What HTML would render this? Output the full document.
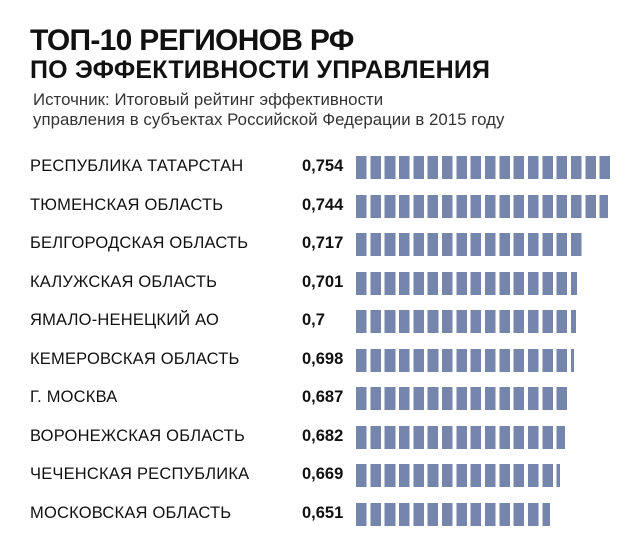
<!DOCTYPE html>
<html><head><meta charset="utf-8"><style>
body{margin:0;width:640px;height:555px;background:#fff;position:relative;overflow:hidden;font-family:"Liberation Sans","DejaVu Sans",sans-serif;color:#111}
.t{position:absolute;left:30px;font-weight:bold;white-space:nowrap}
.l{position:absolute;left:30px;font-size:16.5px;letter-spacing:0.2px;white-space:nowrap}
.v{position:absolute;left:302px;font-size:16.5px;font-weight:bold}
.b{position:absolute;left:356px;height:23px;background:repeating-linear-gradient(90deg,#7585ab 0,#7585ab 10.6px,transparent 10.6px,transparent 14.33px)}
</style></head><body>
<div class="t" style="top:24px;font-size:30px;letter-spacing:-0.7px">ТОП-10 РЕГИОНОВ РФ</div>
<div class="t" style="top:56px;font-size:25px;letter-spacing:0.2px">ПО ЭФФЕКТИВНОСТИ УПРАВЛЕНИЯ</div>
<div style="position:absolute;left:33px;top:90px;font-size:16.8px;line-height:20px;color:#333;letter-spacing:0.05px;white-space:nowrap">Источник: Итоговый рейтинг эффективности<br>управления в субъектах Российской Федерации в 2015 году</div>
<div class="l" style="top:157px">РЕСПУБЛИКА ТАТАРСТАН</div><div class="v" style="top:157px">0,754</div><div class="b" style="top:156px;width:255px"></div>
<div class="l" style="top:196px">ТЮМЕНСКАЯ ОБЛАСТЬ</div><div class="v" style="top:196px">0,744</div><div class="b" style="top:195px;width:252px"></div>
<div class="l" style="top:234px">БЕЛГОРОДСКАЯ ОБЛАСТЬ</div><div class="v" style="top:234px">0,717</div><div class="b" style="top:233px;width:226px"></div>
<div class="l" style="top:273px">КАЛУЖСКАЯ ОБЛАСТЬ</div><div class="v" style="top:273px">0,701</div><div class="b" style="top:272px;width:221px"></div>
<div class="l" style="top:311px">ЯМАЛО-НЕНЕЦКИЙ АО</div><div class="v" style="top:311px">0,7</div><div class="b" style="top:310px;width:219.5px"></div>
<div class="l" style="top:350px">КЕМЕРОВСКАЯ ОБЛАСТЬ</div><div class="v" style="top:350px">0,698</div><div class="b" style="top:349px;width:218px"></div>
<div class="l" style="top:388px">Г. МОСКВА</div><div class="v" style="top:388px">0,687</div><div class="b" style="top:387px;width:212px"></div>
<div class="l" style="top:427px">ВОРОНЕЖСКАЯ ОБЛАСТЬ</div><div class="v" style="top:427px">0,682</div><div class="b" style="top:426px;width:209px"></div>
<div class="l" style="top:465px">ЧЕЧЕНСКАЯ РЕСПУБЛИКА</div><div class="v" style="top:465px">0,669</div><div class="b" style="top:464px;width:204px"></div>
<div class="l" style="top:504px">МОСКОВСКАЯ ОБЛАСТЬ</div><div class="v" style="top:504px">0,651</div><div class="b" style="top:503px;width:194px"></div>
</body></html>
